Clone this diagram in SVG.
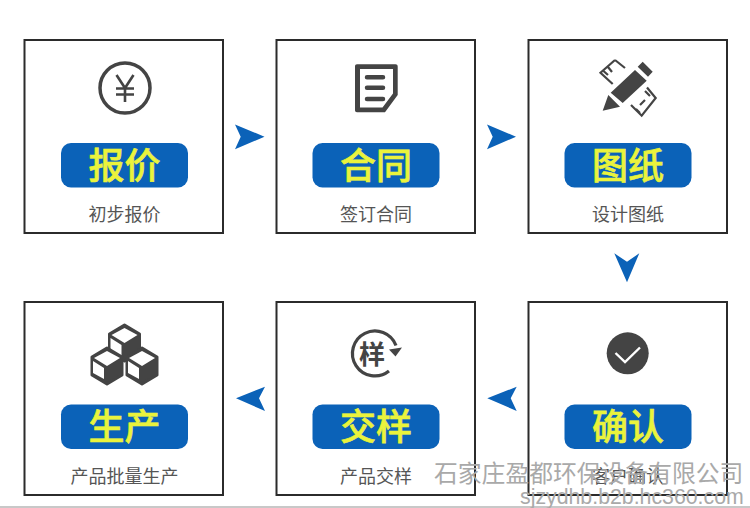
<svg xmlns="http://www.w3.org/2000/svg" xmlns:xlink="http://www.w3.org/1999/xlink" width="750" height="508" viewBox="0 0 750 508">
<style>
.box{fill:#fff;stroke:#2b2b2b;stroke-width:2}
.pill{fill:#0b62b8}
.title{font:500 36px "Noto Sans CJK SC","Noto Sans",sans-serif;fill:#eaf33c;stroke:#eaf33c;stroke-width:.6;text-anchor:middle}
.sub{font:400 18px "Noto Sans CJK SC","Noto Sans",sans-serif;fill:#555;text-anchor:middle}
.arrow{fill:#0b62b8}
.ic{fill:#444}
.ln{fill:none;stroke:#444;stroke-width:3.500}
.wm1{font:400 23.800px "Noto Sans CJK SC","Noto Sans",sans-serif;fill:#a9a9a9}
.wm2{font:400 21.300px "Liberation Sans",sans-serif;fill:#a9a9a9}
</style>
<defs>
<g id="cube">
<path d="M0 0L15 9V27L0 36L-15 27V9Z" fill="#444" stroke="#444" stroke-width="3" stroke-linejoin="round"/>
<path d="M0 3L13 10L0 18L-13 10Z" fill="#fff"/>
<path d="M-14 13L-3 20V31L-14 25Z" fill="#fff"/>
</g>
</defs>
<rect width="750" height="508" fill="#fff"/>
<rect x="0" y="506" width="750" height="2" fill="#c8c8c8"/>
<g id="connectors">
<path class="arrow" d="M235 124.500L264.500 136.700L235 149.300L240.700 136.700Z"/>
<path class="arrow" d="M487 124.500L516 136.700L487 149.300L492.700 136.700Z"/>
<path class="arrow" d="M614.300 253.300L627 261.700L639.300 253.300L627 282.300Z"/>
<path class="arrow" d="M516.700 386.700L487.300 398.300L516.700 411L510.700 398.300Z"/>
<path class="arrow" d="M265 386.700L236 398.300L265 411L259 398.300Z"/>
</g>
<g id="node-baojia">
<rect class="box" x="24.500" y="40" width="198.500" height="193"/>
<circle class="ln" cx="125" cy="88" r="25"/>
<path d="M116.500 75L125 88L133.500 75M125 88V102M116 88.500H134M116 94.500H134" fill="none" stroke="#444" stroke-width="2.600"/>
<rect class="pill" x="61" y="143" width="127" height="44.500" rx="10"/>
<text class="title" x="124.500" y="179">报价</text>
<text class="sub" x="124.500" y="220.500">初步报价</text>
</g>
<g id="node-hetong">
<rect class="box" x="276.500" y="40" width="198.500" height="193"/>
<path class="ic" fill-rule="evenodd" d="M357 64.300H395.500C396.800 64.300 397.700 65.200 397.700 66.500V95L385 112.300H357C355.800 112.300 355 111.500 355 110.300V66.300C355 65.200 355.800 64.300 357 64.300ZM360 69V107.500H382.500L393 93.500V69Z"/>
<path d="M367 77.300H383M367 87.700H383M367 99H383" fill="none" stroke="#444" stroke-width="4.500" stroke-linecap="round"/>
<rect class="pill" x="312.500" y="143" width="127" height="44.500" rx="10"/>
<text class="title" x="376" y="179">合同</text>
<text class="sub" x="376" y="220.500">签订合同</text>
</g>
<g id="node-tuzhi">
<rect class="box" x="528.500" y="40" width="198.500" height="193"/>
<path class="ic" d="M642.700 61.700L652.700 71.700L648 76.700L637.700 66.700ZM635 70L646.700 80.700L622.700 103L610.700 92.700ZM608.300 95L620 106.700L602.700 110.700Z"/>
<path d="M615 60L600.500 72.700L612.700 84M615 60L625 68M603.500 71L608 75M608 67L612 72M647 87.500L655.700 98L641.700 115.700L631 105M650 96L645 91M640 105L645 100M636 109L640 113" fill="none" stroke="#444" stroke-width="2.200"/>
<rect class="pill" x="564.500" y="143" width="127" height="44.500" rx="10"/>
<text class="title" x="628" y="179">图纸</text>
<text class="sub" x="628" y="220.500">设计图纸</text>
</g>
<g id="node-queren">
<rect class="box" x="528.500" y="302" width="198.500" height="193"/>
<circle class="ic" cx="627.700" cy="353.300" r="21"/>
<path d="M615.500 353L625 362L640 347.500" fill="none" stroke="#fff" stroke-width="2.400"/>
<rect class="pill" x="564.500" y="404.500" width="127" height="44.500" rx="10"/>
<text class="title" x="628" y="440">确认</text>
<text class="sub" x="628" y="482.500">客户确认</text>
</g>
<g id="node-jiaoyang">
<rect class="box" x="276.500" y="302" width="198.500" height="193"/>
<path d="M396 345.500A22.500 22.500 0 1 0 389 371" fill="none" stroke="#444" stroke-width="3.200"/>
<path class="ic" d="M389 349.500L402 347.500L395.500 356.500Z"/>
<text x="372" y="364" text-anchor="middle" style="font:700 26px 'Noto Sans CJK SC',sans-serif;fill:#444">样</text>
<rect class="pill" x="312.500" y="404.500" width="127" height="44.500" rx="10"/>
<text class="title" x="376" y="440">交样</text>
<text class="sub" x="376" y="482.500">产品交样</text>
</g>
<g id="node-shengchan">
<rect class="box" x="24.500" y="302" width="198.500" height="193"/>
<use xlink:href="#cube" href="#cube" x="124.500" y="325"/>
<use xlink:href="#cube" href="#cube" x="107" y="348"/>
<use xlink:href="#cube" href="#cube" x="142" y="348"/>
<rect class="pill" x="61" y="404.500" width="127" height="44.500" rx="10"/>
<text class="title" x="124.500" y="440">生产</text>
<text class="sub" x="124.500" y="482.500">产品批量生产</text>
</g>
<g id="watermark">
<text class="wm1" x="434" y="482">石家庄盈都环保设备有限公司</text>
<text class="wm2" x="520" y="503.500">sjzydhb.b2b.hc360.com</text>
</g>
</svg>
